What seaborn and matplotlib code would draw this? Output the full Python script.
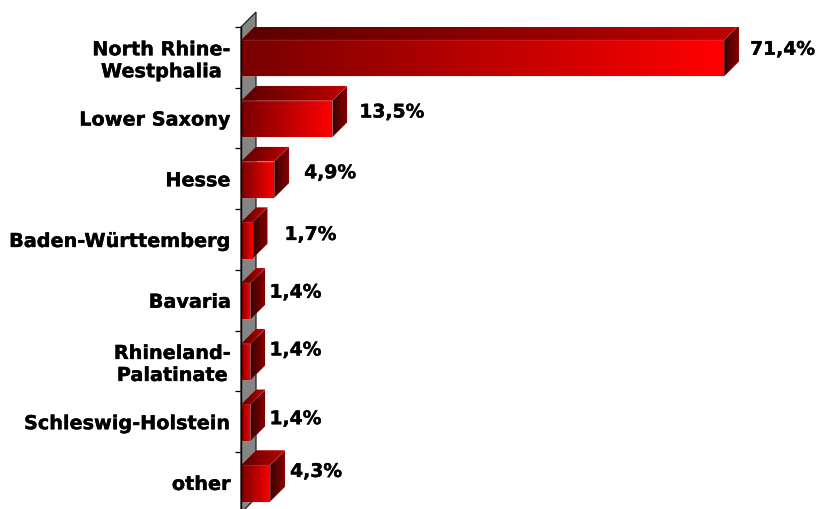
import numpy as np
import pandas as pd
import matplotlib
matplotlib.use('Agg')
import matplotlib.pyplot as plt
import matplotlib.patheffects as pe
from matplotlib.colors import LinearSegmentedColormap
from matplotlib.patches import Polygon
from matplotlib.transforms import ScaledTranslation
import seaborn as sns

# --------------
# Data
# --------------
states = ['North Rhine-\nWestphalia', 'Lower Saxony', 'Hesse', 'Baden-Württemberg',
          'Bavaria', 'Rhineland-\nPalatinate', 'Schleswig-Holstein', 'other']
shares = [71.4, 13.5, 4.9, 1.7, 1.4, 1.4, 1.4, 4.3]

# label nudges from the bar end, in pixels
label_dx = [26, 27, 30, 32, 19, 19, 19, 20]
label_dy = [9, 7, 7, 6, 9, 12, 4, 12]

# --------------
# Layout (pixels)
# --------------
W, H = 818, 509
left = 241
top = 27
px_per_unit = 6.765
px_per_row = 60.85
depth = 15

sns.set_style('white')
plt.rcParams['font.family'] = ['DejaVu Sans']

fig = plt.figure(figsize=(W / 100, H / 100), dpi=100)
ax_w = 570
ax_h = px_per_row * len(states)
ax = fig.add_axes([left / W, 1 - (top + ax_h) / H, ax_w / W, ax_h / H])
ax.patch.set_alpha(0)

df = pd.DataFrame({'state': states, 'share': shares})
sns.barplot(data=df, x='share', y='state', orient='h', width=0.6, color='#ff0000',
            linewidth=0, ax=ax)

xmax = ax_w / px_per_unit
ylim = (len(states) - 0.5, -0.5)
dx = depth / px_per_unit
dy = depth / px_per_row

front_cmap = LinearSegmentedColormap.from_list('front', ['#780000', '#ff0000'])
top_cmap = LinearSegmentedColormap.from_list('top', ['#5a0000', '#c00000'])
side_cmap = LinearSegmentedColormap.from_list('side', ['#380000', '#860000'])
heavier = [pe.withStroke(linewidth=0.25, foreground='black')]


def gradient_face(points, cmap, z):
    # fill a polygon with a left to right gradient, thin light rim on top
    poly = Polygon(points, closed=True, facecolor='none', edgecolor='none', zorder=z)
    ax.add_patch(poly)
    xs = [p[0] for p in points]
    ys = [p[1] for p in points]
    im = ax.imshow(np.linspace(0, 1, 256).reshape(1, -1), cmap=cmap, aspect='auto',
                   extent=(min(xs), max(xs), max(ys), min(ys)), zorder=z,
                   interpolation='bilinear')
    im.set_clip_path(poly)
    ax.add_patch(Polygon(points, closed=True, facecolor='none', edgecolor=(1, 0.55, 0.55, 0.22),
                         linewidth=0.5, zorder=z))


# back wall behind the bars
wall_top = -0.515
wall_bottom = len(states) - 0.515
ax.add_patch(Polygon([(0, wall_top), (dx, wall_top - dy), (dx, wall_bottom - dy), (0, wall_bottom)],
                     closed=True, facecolor='#858585', edgecolor='#202020', linewidth=0.9,
                     clip_on=False, zorder=1))

for i, bar in enumerate(ax.patches[:len(states)]):
    x1 = bar.get_width()
    y0 = bar.get_y()
    y1 = y0 + bar.get_height()
    bar.set_visible(False)
    z = 3 + i * 0.01
    gradient_face([(0, y0), (dx, y0 - dy), (x1 + dx, y0 - dy), (x1, y0)], top_cmap, z)
    gradient_face([(x1, y0), (x1 + dx, y0 - dy), (x1 + dx, y1 - dy), (x1, y1)], side_cmap, z)
    gradient_face([(0, y0), (x1, y0), (x1, y1), (0, y1)], front_cmap, z + 0.001)
    ax.annotate(f'{shares[i]:.1f}%'.replace('.', ','), xy=(x1, (y0 + y1) / 2),
                xytext=(label_dx[i], label_dy[i]), textcoords='offset pixels',
                ha='left', va='center', fontsize=13.5, fontweight='bold', color='black',
                annotation_clip=False, zorder=6, path_effects=heavier)

ax.set_xlim(0, xmax)
ax.set_ylim(*ylim)
ax.set_xlabel('')
ax.set_ylabel('')
ax.set_xticks([])

# tick marks sit between the categories, labels in the middle
ax.set_yticks(np.arange(len(states) + 1) - 0.515, minor=True)
ax.tick_params(axis='y', which='minor', left=True, length=4.3, width=0.9, color='black')
ax.tick_params(axis='y', which='major', left=False, length=0, pad=7.2)
nudge_up = ScaledTranslation(0, 1 / 100, fig.dpi_scale_trans)
for lab in ax.get_yticklabels():
    lab.set_fontsize(13.85)
    lab.set_fontweight('bold')
    lab.set_color('black')
    lab.set_multialignment('center')
    lab.set_linespacing(1.2)
    lab.set_path_effects(heavier)
    lab.set_transform(lab.get_transform() + nudge_up)

sns.despine(ax=ax, top=True, right=True, bottom=True, left=False)
ax.spines['left'].set_color('black')
ax.spines['left'].set_linewidth(1.0)
ax.spines['left'].set_zorder(5)

fig.savefig('out.png', dpi=100)
plt.close(fig)
